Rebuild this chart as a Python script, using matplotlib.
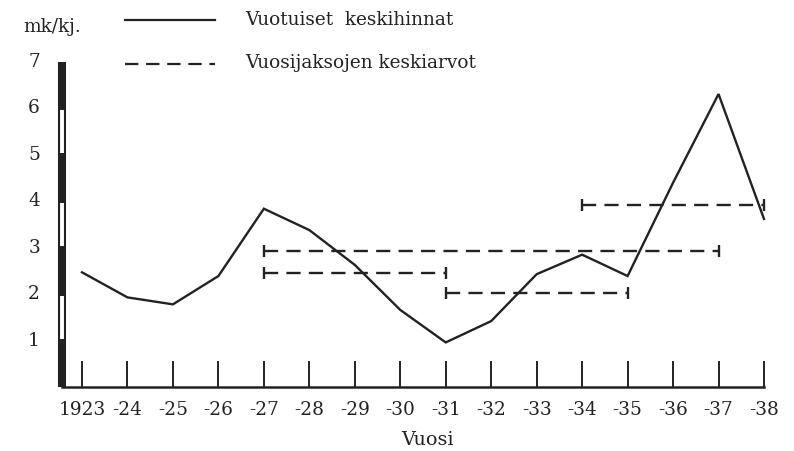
import numpy as np
import matplotlib.pyplot as plt
from matplotlib.lines import Line2D

# Data ------------------------------------------------------------
years = np.arange(1923, 1939)
prices = [2.47, 1.93, 1.78, 2.39, 3.84, 3.38, 2.63, 1.66, 0.96,
          1.42, 2.43, 2.85, 2.39, 4.4, 6.31, 3.62]
# period means: (start, end, value)
period_start = [1927, 1927, 1931, 1934]
period_end = [1937, 1931, 1935, 1938]
period_mean = [2.93, 2.46, 2.02, 3.93]
xlabels = ['1923'] + ['-%02d' % (y % 100) for y in years[1:]]
# ----------------------------------------------------------------

plt.rcParams['font.family'] = ['DejaVu Serif']

W, H = 794, 451
fig = plt.figure(figsize=(W / 100, H / 100), dpi=100)

# axes placed in pixel terms: y-axis bar at x=62, x-axis at y=387
px_per_year = (764 - 82) / 15
left_px, right_px = 62, 768
ax = fig.add_axes([left_px / W, 1 - 387 / H, (right_px - left_px) / W, (387 - 62) / H])
x0 = 1923 - (82 - left_px) / px_per_year
x1 = 1938 + (right_px - 764) / px_per_year
ax.set_xlim(x0, x1)
ax.set_ylim(0, 7)
for s in ax.spines.values():
    s.set_visible(False)
ax.set_xticks([])
ax.set_yticks([])

ink = '#222222'
fs = 13.3

# main series
ax.plot(years, prices, color=ink, lw=1.7, solid_joinstyle='miter', clip_on=False, zorder=3)

# period means with end caps
for a, b, v in zip(period_start, period_end, period_mean):
    ax.plot([a, b], [v, v], color=ink, lw=1.7, dashes=(6, 3.5), zorder=3)
    ax.plot([a, b], [v, v], ls='none', marker='|', ms=8, mew=1.7, color=ink, zorder=3)

# x axis with year ticks
ax.plot([x0, 1938], [0, 0], color=ink, lw=1.8, clip_on=False)
ax.vlines(years, 0, 0.55, color=ink, lw=1.4)
for y, lab in zip(years, xlabels):
    ax.text(y, -0.5, lab, ha='center', va='center', fontsize=fs, color=ink)
ax.text(1930.6, -1.15, 'Vuosi', ha='center', va='center', fontsize=fs + 0.5, color=ink)

# striped y axis bar
for k in range(7):
    ax.plot([x0, x0], [k, k + 1], color=ink, lw=5.8, solid_capstyle='butt', clip_on=False, zorder=4)
    if k % 2 == 1:
        ax.plot([x0, x0], [k + 0.04, k + 0.96], color='white', lw=2.8, solid_capstyle='butt',
                clip_on=False, zorder=5)
for k in range(1, 8):
    ax.text(x0 - 28 / px_per_year, k, str(k), ha='center', va='center', fontsize=fs, color=ink)

# unit label and legend
fig.text(52 / W, 1 - 27 / H, 'mk/kj.', ha='center', va='center', fontsize=fs, color=ink)
fig.add_artist(Line2D([125 / W, 215 / W], [1 - 20 / H, 1 - 20 / H], color=ink, lw=1.6))
fig.add_artist(Line2D([125 / W, 215 / W], [1 - 64 / H, 1 - 64 / H], color=ink, lw=1.6,
                      dashes=(6, 3.5)))
fig.text(245 / W, 1 - 20 / H, 'Vuotuiset  keskihinnat', ha='left', va='center', fontsize=fs, color=ink)
fig.text(245 / W, 1 - 63 / H, 'Vuosijaksojen keskiarvot', ha='left', va='center', fontsize=fs, color=ink)

fig.savefig('out.png', dpi=100)
